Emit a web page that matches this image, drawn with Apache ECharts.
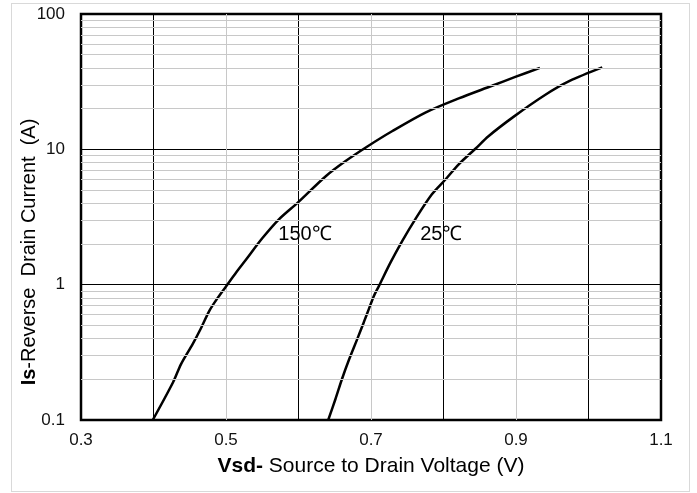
<!DOCTYPE html>
<html>
<head>
<meta charset="utf-8">
<script src="https://cdn.jsdelivr.net/npm/echarts@6/dist/echarts.min.js"></script>
<style>
  html, body { margin: 0; padding: 0; background: #fff; }
  #chart { width: 697px; height: 493px; }
  #frame {
    position: absolute; left: 11px; top: 3px; width: 677px; height: 487px;
    border: 1px solid #d9d9d9; pointer-events: none;
  }
</style>
</head>
<body>
<div id="chart"></div>
<div id="frame"></div>
<script>
// Vsd (V) vs Is (A)
const vsd150 = [0.399, 0.427, 0.438, 0.454, 0.466, 0.477, 0.489, 0.50, 0.514, 0.528, 0.550, 0.573, 0.599, 0.638, 0.665, 0.695, 0.729, 0.775, 0.821, 0.867, 0.899, 0.933];
const is150 = [0.1, 0.19, 0.259, 0.364, 0.483, 0.641, 0.805, 0.97, 1.23, 1.54, 2.2, 3.04, 4.04, 6.36, 8.2, 10.5, 13.6, 18.7, 23.8, 29.5, 34.3, 40];

const vsd25 = [0.641, 0.651, 0.660, 0.670, 0.681, 0.690, 0.697, 0.704, 0.711, 0.727, 0.743, 0.761, 0.784, 0.803, 0.821, 0.844, 0.862, 0.896, 0.940, 0.974, 1.019];
const is25 = [0.1, 0.143, 0.201, 0.282, 0.396, 0.526, 0.66, 0.826, 0.98, 1.46, 2.1, 3.04, 4.65, 6.01, 7.75, 10.1, 12.5, 17.3, 25.2, 32.0, 40.3];

// minor log grid lines
const yMinor = [0.2, 0.3, 0.4, 0.5, 0.6, 0.7, 0.8, 0.9, 2, 3, 4, 5, 6, 7, 8, 9, 20, 30, 40, 50, 60, 70, 80, 90];

const chart = echarts.init(document.getElementById("chart"));

const pair = (xs, ys) => xs.map((x, i) => [x, ys[i]]);
const font = "'Liberation Sans', Arial, sans-serif";

const curveLabel = (text, coord) => ({
  symbol: "circle",
  symbolSize: 1,
  itemStyle: { color: "transparent" },
  label: {
    show: true,
    position: "inside",
    formatter: text,
    color: "#000",
    fontSize: 20,
    fontFamily: font,
  },
  data: [{ coord: coord }],
});

chart.setOption({
  animation: false,
  grid: {
    left: 81,
    right: 36,
    top: 14,
    bottom: 73,
    show: true,
    borderColor: "#000",
    borderWidth: 2.5,
  },
  xAxis: {
    type: "value",
    min: 0.3,
    max: 1.1,
    interval: 0.1,
    axisLine: { show: false },
    axisTick: { show: false },
    axisLabel: {
      margin: 12,
      color: "#111",
      fontSize: 17,
      fontFamily: font,
      formatter: (v) => (Math.round(v * 10) % 2 === 1 ? v.toFixed(1) : ""),
    },
    splitLine: {
      show: true,
      showMinLine: false,
      showMaxLine: false,
      lineStyle: { color: ["#000", "#c8c8c8"], width: 1 },
    },
    name: "{b|Vsd-} Source to Drain Voltage (V)",
    nameLocation: "middle",
    nameGap: 36,
    nameTextStyle: {
      fontSize: 21,
      color: "#000",
      fontFamily: font,
      rich: {
        b: { fontSize: 21, fontWeight: "bold", color: "#000", fontFamily: font },
      },
    },
  },
  yAxis: {
    type: "log",
    logBase: 10,
    min: 0.1,
    max: 100,
    axisLine: { show: false },
    axisTick: { show: false },
    axisLabel: {
      margin: 16,
      color: "#111",
      fontSize: 17,
      fontFamily: font,
      formatter: (v) => String(v),
    },
    splitLine: {
      show: true,
      showMinLine: false,
      showMaxLine: false,
      lineStyle: { color: "#000", width: 1 },
    },
  },
  graphic: [
    {
      type: "text",
      x: 29,
      y: 252,
      rotation: Math.PI / 2,
      style: {
        text: "{b|Is}-Reverse  Drain Current  (A)",
        fontSize: 20,
        fontFamily: font,
        fill: "#000",
        align: "center",
        verticalAlign: "middle",
        rich: {
          b: { fontSize: 20, fontWeight: "bold", fontFamily: font, fill: "#000" },
        },
      },
    },
  ],
  series: [
    {
      type: "line",
      data: [],
      z: -1,
      silent: true,
      markLine: {
        silent: true,
        symbol: "none",
        label: { show: false },
        lineStyle: { color: "#c8c8c8", type: "solid", width: 1 },
        data: yMinor.map((v) => ({ yAxis: v })),
      },
    },
    {
      name: "150",
      type: "line",
      data: pair(vsd150, is150),
      smooth: 0.3,
      showSymbol: false,
      lineStyle: { color: "#000", width: 2.5 },
      markPoint: curveLabel("150℃", [0.609, 2.33]),
      z: 3,
    },
    {
      name: "25",
      type: "line",
      data: pair(vsd25, is25),
      smooth: 0.3,
      showSymbol: false,
      lineStyle: { color: "#000", width: 2.5 },
      markPoint: curveLabel("25℃", [0.797, 2.33]),
      z: 3,
    },
  ],
});
</script>
</body>
</html>
